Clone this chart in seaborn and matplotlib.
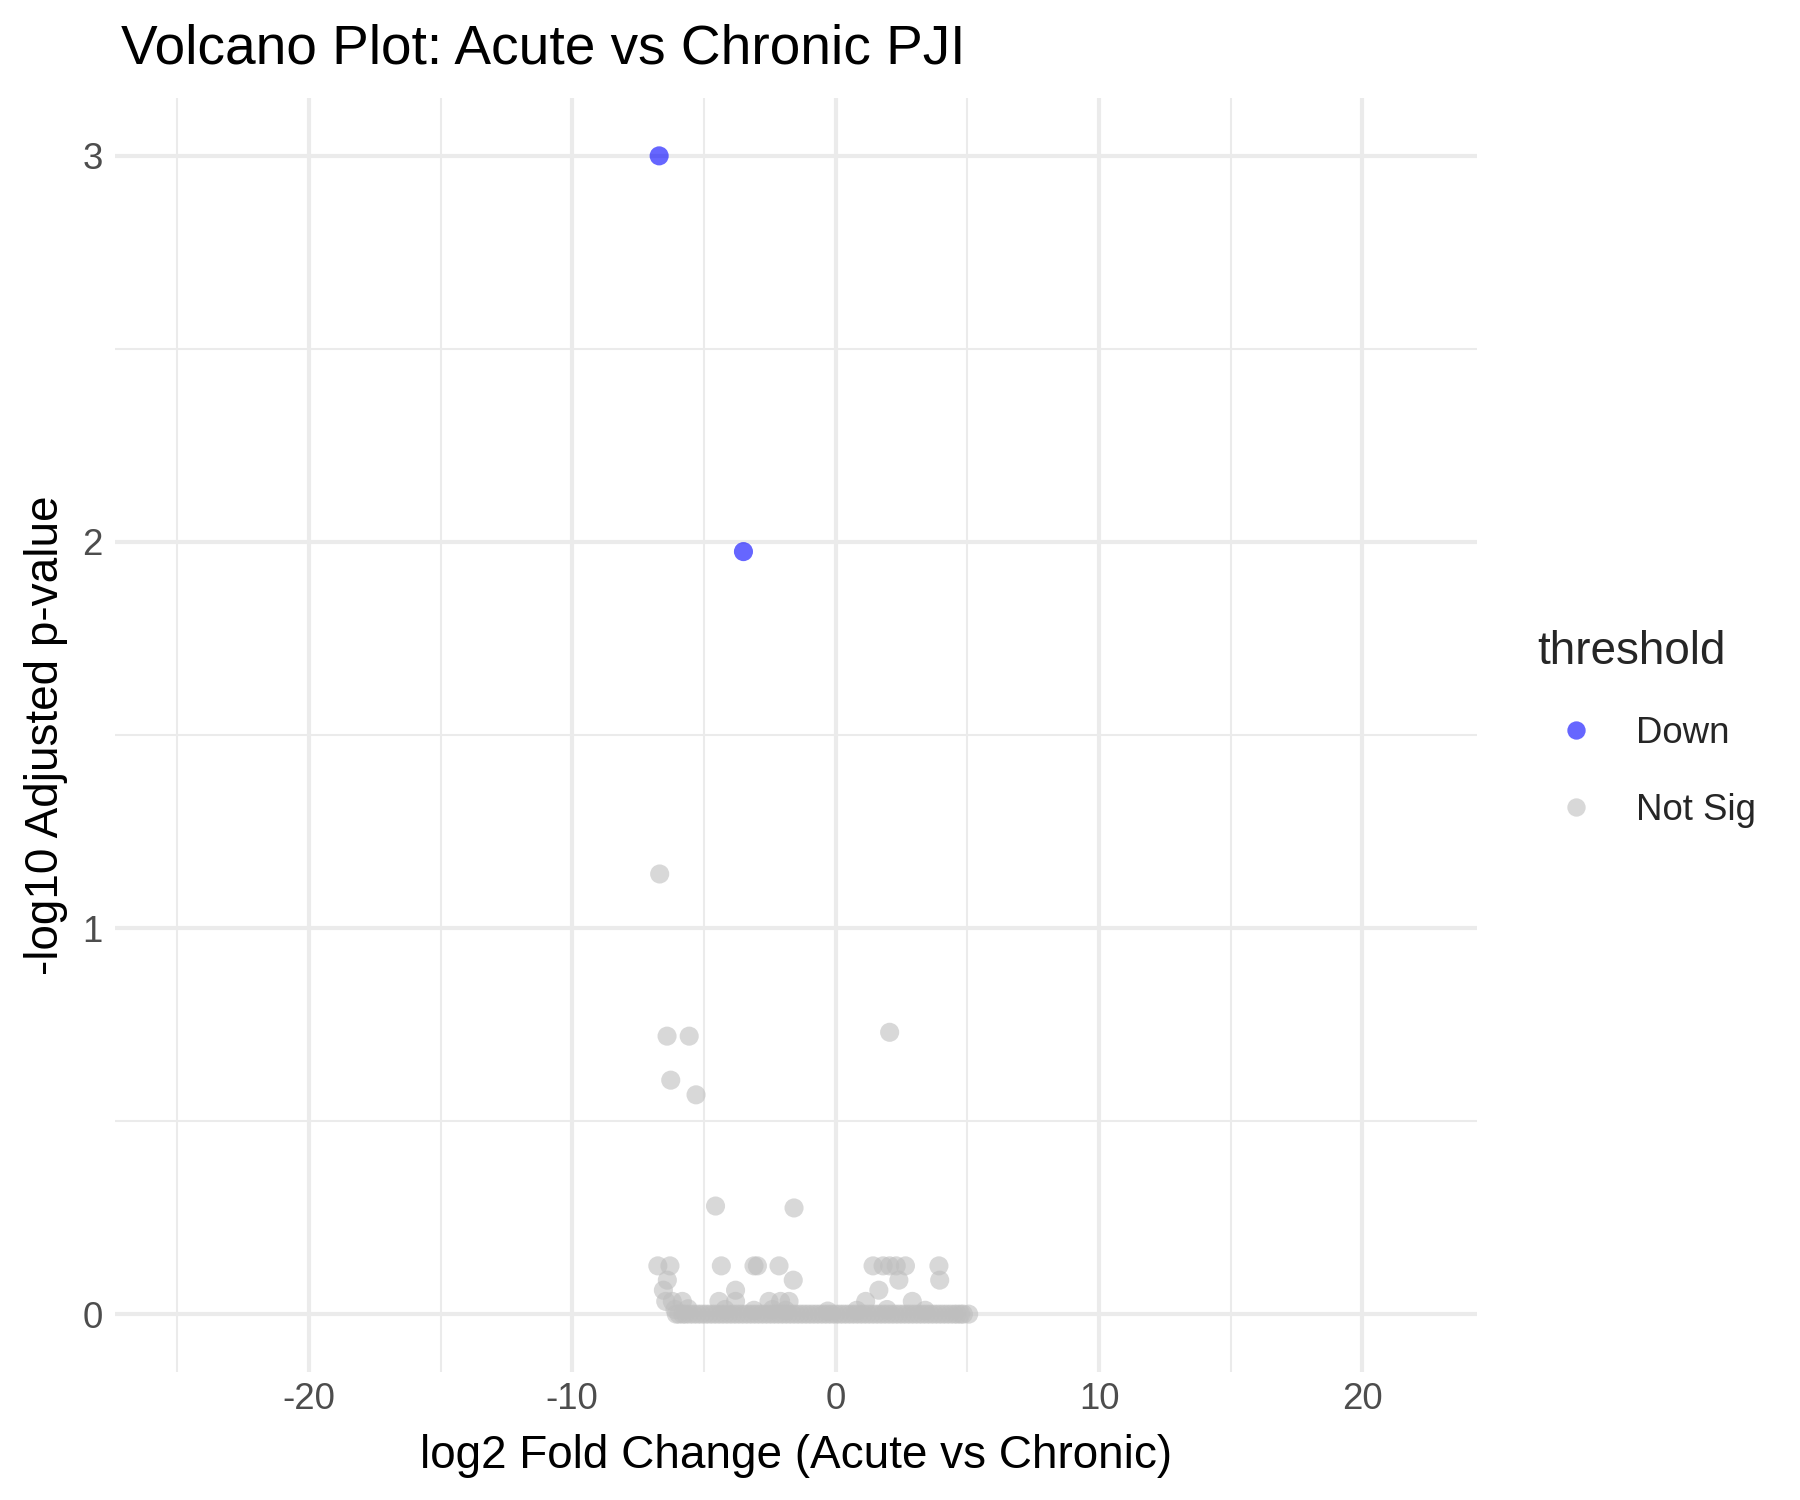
import numpy as np
import pandas as pd
import matplotlib
matplotlib.use("Agg")
import matplotlib.pyplot as plt
import seaborn as sns
from matplotlib.lines import Line2D

# ---- data ----
down_lfc = [-6.70, -3.50]
down_padj = [3.00, 1.975]

ns_lfc_high = [-6.68, -6.40, -5.56, -6.26, -5.30, 2.05, -4.56, -1.58]
ns_padj_high = [1.14, 0.72, 0.72, 0.606, 0.568, 0.73, 0.28, 0.275]

ns_lfc_low = [-6.75, -6.29, -4.34, -3.10, -2.97, -2.15,
              1.42, 1.80, 2.05, 2.30, 2.65, 3.92,
              -6.39, -1.61, 2.40, 3.95,
              -6.54, -3.80, 1.64,
              -6.45, -6.20, -5.82, -4.43, -3.80, -2.53, -2.09, -1.77, 1.14, 2.91,
              -6.10, -5.60, -4.20, -3.10, -2.40, -1.90, -0.30, 0.80, 1.95, 3.40]
ns_padj_low = [0.125, 0.125, 0.125, 0.125, 0.125, 0.125,
               0.125, 0.125, 0.125, 0.125, 0.125, 0.125,
               0.088, 0.088, 0.088, 0.088,
               0.062, 0.062, 0.062,
               0.033, 0.033, 0.033, 0.033, 0.033, 0.033, 0.033, 0.033, 0.033, 0.033,
               0.012, 0.014, 0.012, 0.010, 0.012, 0.010, 0.008, 0.010, 0.012, 0.010]

ns_lfc_zero = [-6.05, -5.95, -5.80, -5.70, -5.55, -5.40, -5.25, -5.10, -4.95, -4.80,
               -4.65, -4.50, -4.35, -4.20, -4.05, -3.90, -3.75, -3.60, -3.45, -3.30,
               -3.15, -3.00, -2.85, -2.70, -2.55, -2.40, -2.25, -2.10, -1.95, -1.80,
               -1.65, -1.50, -1.35, -1.20, -1.05, -0.90, -0.75, -0.60, -0.45, -0.30,
               -0.15, 0.00, 0.15, 0.30, 0.45, 0.60, 0.75, 0.90, 1.05, 1.20,
               1.35, 1.50, 1.65, 1.80, 1.95, 2.10, 2.25, 2.40, 2.55, 2.70,
               2.85, 3.00, 3.15, 3.30, 3.45, 3.60, 3.75, 3.90, 4.05, 4.20,
               4.35, 4.50, 4.62, 4.75, 4.85, 5.05]
ns_padj_zero = [0.0] * len(ns_lfc_zero)

categories = ["Down", "Not Sig"]
palette = {"Down": "#0000FF", "Not Sig": "#BEBEBE"}

lfc = ns_lfc_zero + ns_lfc_low + ns_lfc_high + down_lfc
padj = ns_padj_zero + ns_padj_low + ns_padj_high + down_padj
thr = ["Not Sig"] * (len(ns_lfc_zero) + len(ns_lfc_low) + len(ns_lfc_high)) + ["Down"] * len(down_lfc)
df = pd.DataFrame({"log2FC": lfc, "negLogPadj": padj, "threshold": thr})

# ---- plotting ----
sns.set_theme(style="white")
plt.rcParams["font.family"] = ["Liberation Sans", "DejaVu Sans"]
plt.rcParams["axes.unicode_minus"] = False

fig = plt.figure(figsize=(6, 5), dpi=300)
ax = fig.add_axes([0.064, 0.0853, 0.8206 - 0.064, 0.9347 - 0.0853])

sns.scatterplot(data=df, x="log2FC", y="negLogPadj", hue="threshold",
                hue_order=categories, palette=palette, alpha=0.6,
                s=21, linewidth=0, ax=ax, legend=False, zorder=3)

ax.set_xlim(-27.35, 24.35)
ax.set_ylim(-0.15, 3.15)
ax.set_xticks([-20, -10, 0, 10, 20])
ax.set_xticks([-25, -15, -5, 5, 15], minor=True)
ax.set_yticks([0, 1, 2, 3])
ax.set_yticks([0.5, 1.5, 2.5], minor=True)
ax.grid(which="major", color="#EBEBEB", linewidth=1.0, zorder=0)
ax.grid(which="minor", color="#EBEBEB", linewidth=0.5, zorder=0)
ax.set_axisbelow(True)
for sp in ax.spines.values():
    sp.set_visible(False)
ax.tick_params(which="both", length=0, labelsize=8.8, labelcolor="#4D4D4D")
ax.tick_params(axis="x", pad=2.5)
ax.tick_params(axis="y", pad=3)

ax.set_xlabel("log2 Fold Change (Acute vs Chronic)", fontsize=11, color="black", labelpad=4)
ax.set_ylabel("-log10 Adjusted p-value", fontsize=11, color="black", labelpad=3.5)
fig.text(0.0672, 0.958, "Volcano Plot: Acute vs Chronic PJI", fontsize=13.2,
         color="black", ha="left", va="baseline")

handles = [Line2D([0], [0], marker="o", linestyle="", markersize=4.4,
                  markerfacecolor=palette[c], markeredgewidth=0, alpha=0.6, label=c)
           for c in categories]
leg = fig.legend(handles=handles, title="threshold", loc="center left",
                 bbox_to_anchor=(0.854, 0.514), frameon=False, fontsize=8.8,
                 title_fontsize=11, handletextpad=0.6, labelspacing=1.15,
                 handlelength=2.1, borderaxespad=0, borderpad=0)
leg._legend_box.align = "left"

fig.savefig("out.png", dpi=300, facecolor="white")
